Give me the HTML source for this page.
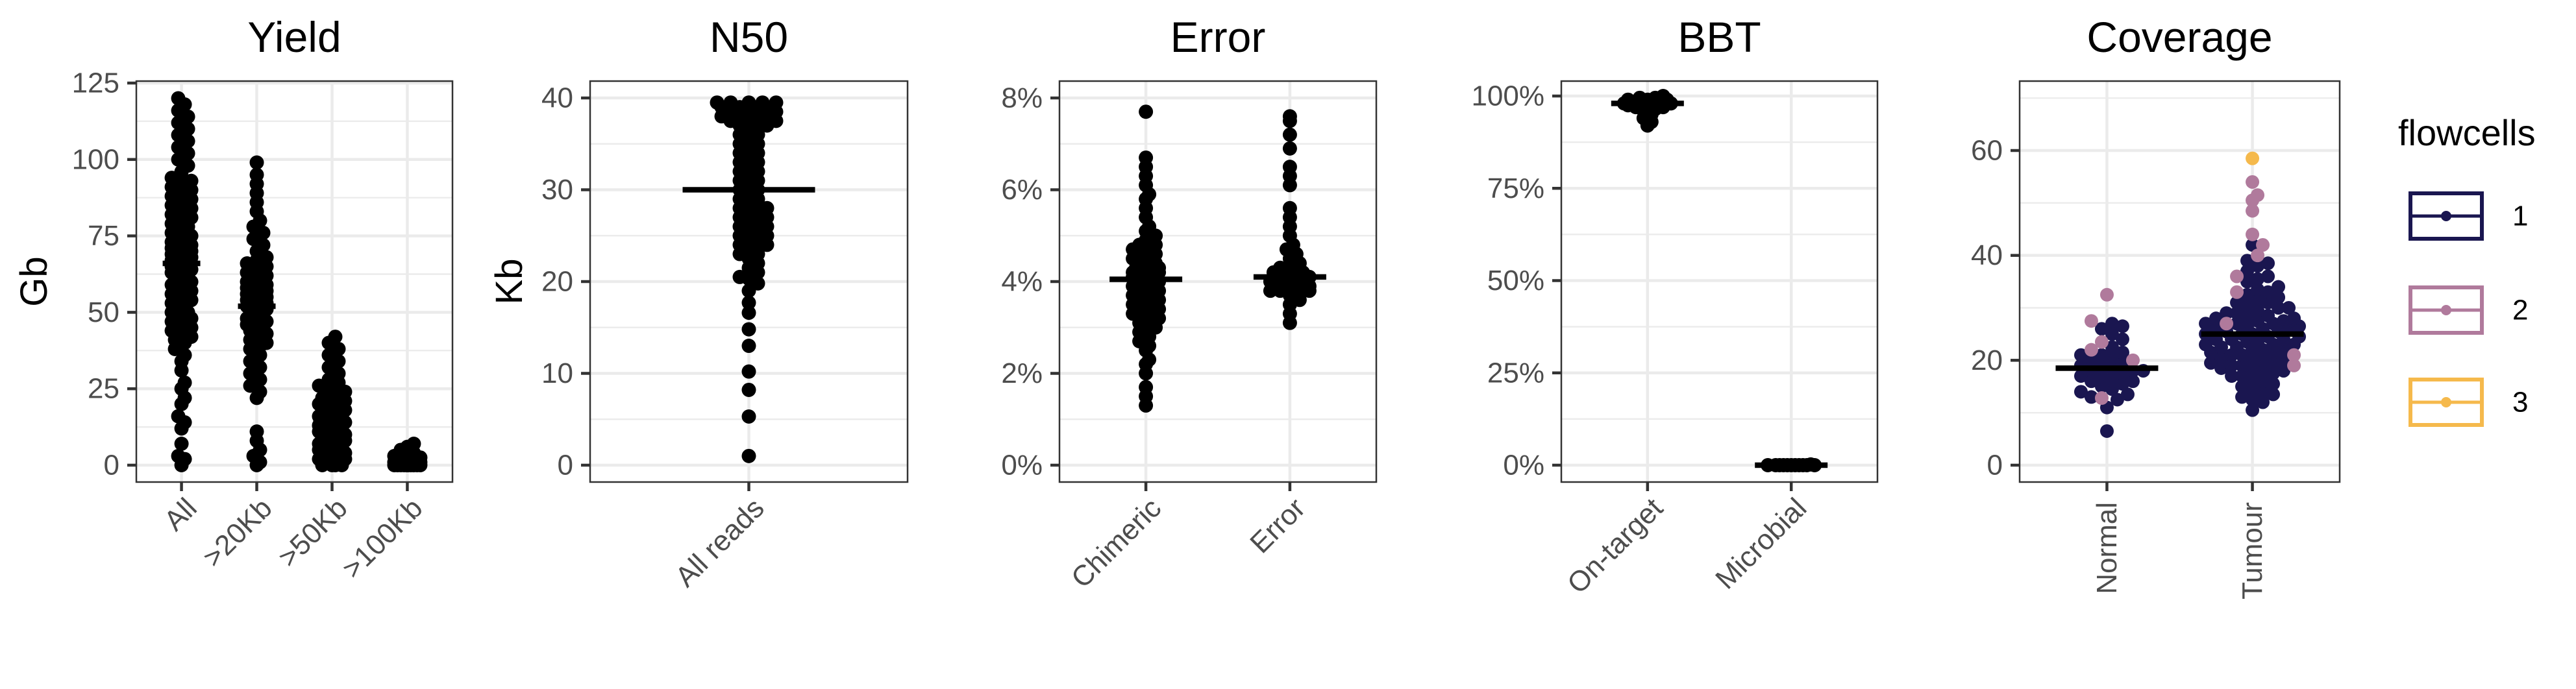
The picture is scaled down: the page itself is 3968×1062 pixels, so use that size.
<!DOCTYPE html>
<html><head><meta charset="utf-8"><title>Sequencing QC</title>
<style>
html,body{margin:0;padding:0;background:#fff;}
svg{display:block;font-family:"Liberation Sans",Arial,sans-serif;}
</style></head>
<body>
<svg id="fig" width="3968" height="1062" viewBox="0 0 3968 1062" xmlns="http://www.w3.org/2000/svg"></svg>
<script>
// ---------- data ----------
const yieldCats = ["All", ">20Kb", ">50Kb", ">100Kb"];
const yieldAll = [0,2,3,7,12,14,16,20,22,25,27,31,34,36,38,40,41,42,43,44,45,46,47,48,49,50,50,51,52,53,54,54,55,56,57,57,58,59,59,60,60,61,62,62,63,63,64,64,65,65,66,66,67,67,68,68,68,69,69,70,70,71,71,72,72,73,73,74,75,75,76,77,78,79,80,81,82,83,84,85,86,87,88,89,90,91,92,93,94,96,98,100,102,104,106,108,110,112,114,116,118,120];
const yield20 = [0,1,3,5,8,11,22,24,26,28,30,32,34,36,38,39,40,41,42,43,44,44,45,45,46,46,47,47,48,48,49,49,50,50,51,51,52,52,53,53,53,54,54,55,55,56,56,57,57,58,58,59,59,60,60,61,62,63,64,65,66,67,68,70,72,74,76,78,80,83,86,89,92,95,99];
const yield50 = [0,0,0,0,1,1,2,2,3,3,4,4,5,5,6,6,7,7,8,8,9,9,10,10,11,11,12,12,13,13,14,14,15,15,16,16,16,17,17,18,18,19,19,20,20,21,21,22,22,23,24,25,26,27,28,30,32,34,36,38,40,42];
const yield100 = [0,0,0,0,0,0,0,0,0,0,0,0,0.5,0.5,0.5,0.5,0.5,1,1,1,1,1,1.5,1.5,2,2,2.5,3,3.5,4,5,6,7];
const yieldTicks = [0,25,50,75,100,125];

const n50Cats = ["All reads"];
const n50Vals = [1,5.3,8.2,10.2,13,14.8,16.6,17.7,19,19.8,20.3,20.5,21,21.5,22,22.5,23,23,23.5,24,24,24,24.5,25,25,25,25.5,26,26,26,26.5,27,27,27,27.5,28,28,28,28.5,29,29,29.5,30,30,30.5,31,31,31.5,32,32,32.5,33,33,33.5,34,34,34.5,35,35,35.5,36,36,36.5,37,37,37,37.5,37.5,37.5,38,38,38,38,38.5,38.5,38.5,39,39,39,39,39.5,39.5,39.5,39.5,39.5];
const n50Ticks = [0,10,20,30,40];

const errCats = ["Chimeric", "Error"];
const chimericVals = [1.3,1.5,1.7,2.0,2.2,2.3,2.5,2.6,2.7,2.8,2.9,3.0,3.0,3.1,3.2,3.2,3.3,3.3,3.4,3.4,3.5,3.5,3.6,3.6,3.7,3.7,3.8,3.8,3.8,3.9,3.9,3.9,4.0,4.0,4.0,4.1,4.1,4.1,4.2,4.2,4.2,4.2,4.3,4.3,4.3,4.3,4.4,4.4,4.4,4.5,4.5,4.6,4.6,4.7,4.7,4.8,4.8,4.9,5.0,5.1,5.2,5.4,5.6,5.8,5.9,6.1,6.3,6.5,6.7,7.7];
const errorVals = [3.1,3.3,3.5,3.6,3.7,3.8,3.8,3.8,3.8,3.9,3.9,3.9,3.9,3.9,3.9,4.0,4.0,4.0,4.0,4.0,4.1,4.1,4.1,4.1,4.2,4.2,4.3,4.3,4.4,4.5,4.6,4.7,4.8,5.0,5.2,5.4,5.6,6.1,6.3,6.5,6.9,7.2,7.5,7.6];
const errTicks = [0,2,4,6,8];

const bbtCats = ["On-target", "Microbial"];
const onTargetVals = [92,93,94,95,96,96.5,97,97,97.5,97.5,98,98,98,98,98,98.5,98.5,98.5,98.5,99,99,99,99,99.5,99.5,100];
const microbialVals = [0,0,0,0,0,0,0,0,0,0,0,0.2];
const bbtTicks = [0,25,50,75,100];

const covCats = ["Normal", "Tumour"];
const normalFc1 = [6.5,11,12.5,13,13.5,14,14.5,15,15.5,16,16,16.5,17,17,17.5,18,18,18,18.5,19,19,19.5,20,20.5,21,21,21.5,22.5,24,25,26,26.5,27];
const normalFc2 = [12.8,20,22,23.5,27.5,32.5];
const tumourFc1 = [10.5,12,12.5,13,13.5,14,14.5,15,15.5,16,16.5,17,17,17.5,18,18,18.5,18.5,19,19,19.5,19.5,20,20,20.5,20.5,21,21,21.5,21.5,22,22,22,22.5,22.5,23,23,23,23.5,23.5,24,24,24,24.5,24.5,25,25,25,25.5,25.5,26,26,26,26.5,26.5,27,27,27,27.5,27.5,28,28,28.5,28.5,29,29,29.5,30,30,30.5,31,31,31.5,32,32.5,33,33.5,34,35,35.5,36,37,38,38.5,39,42];
const tumourFc2 = [19,21,27,33,36,40,42,44,48.5,50.5,51.5,54];
const tumourFc3 = [58.5];
const covTicks = [0,20,40,60];
const flowcellLabels = ["1","2","3"];

// ---------- rendering ----------
const NS = "http://www.w3.org/2000/svg";
const svg = document.getElementById("fig");
const FC_COLORS = ["#1a1650", "#b07a9c", "#f5b94c"];
const BOX_TOP = 125, BOX_BOT = 743;

function mk(tag, attrs, parent) {
  const e = document.createElementNS(NS, tag);
  for (const k in attrs) e.setAttribute(k, attrs[k]);
  (parent || svg).appendChild(e);
  return e;
}
function median(a) { const s = [...a].sort((x, y) => x - y); const n = s.length; return n % 2 ? s[(n - 1) / 2] : (s[n / 2 - 1] + s[n / 2]) / 2; }

function swarm(vals, cx, yf, minD, step, cap, dens) {
  const ys = vals.map(yf);
  const idx = vals.map((v, i) => i).sort((a, b) => vals[a] - vals[b]);
  const placed = [];
  const out = new Array(vals.length);
  idx.forEach(i => {
    const y = ys[i];
    let cnt = 0;
    ys.forEach(o => { if (Math.abs(o - y) < minD * 1.5) cnt++; });
    const lc = Math.min(cap, Math.max(0, cnt - 1) * dens);
    const kmax = 2 * Math.floor(lc / step);
    let best = cx, bestD = -1;
    for (let k = 0; k <= kmax; k++) {
      const off = k === 0 ? 0 : (k % 2 ? 1 : -1) * Math.ceil(k / 2) * step;
      const x = cx + off;
      let md = Infinity;
      for (const p of placed) { if (Math.abs(p.y - y) < minD) md = Math.min(md, Math.hypot(p.x - x, p.y - y)); }
      if (md >= minD) { best = x; break; }
      if (md > bestD) { bestD = md; best = x; }
    }
    placed.push({ x: best, y });
    out[i] = { x: best, y };
  });
  return out;
}

function panel(cfg) {
  const g = mk("g", {});
  
  
  const { x0, x1, v0, p0, v1, p1 } = cfg;
  const yf = v => p0 + (v - v0) * (p1 - p0) / (v1 - v0);
  const n = cfg.cats.length;
  const unit = (x1 - x0) / (n - 1 + 1.2);
  const xf = i => x0 + 0.6 * unit + i * unit;
  for (let i = 0; i < cfg.ticks.length; i++) {
    const step = cfg.ticks[1] - cfg.ticks[0];
    [cfg.ticks[i] - step / 2, cfg.ticks[i] + step / 2].forEach(m => {
      const y = yf(m);
      if (y > BOX_TOP + 2 && y < BOX_BOT - 2 && !cfg.ticks.includes(m)) {
        const l = mk("line", { x1: x0, x2: x1, y1: y, y2: y, stroke: "#ebebeb", "stroke-width": 2.2 }, g);
        
        
      }
    });
  }
  cfg.ticks.forEach(t => {
    const y = yf(t);
    const l = mk("line", { x1: x0, x2: x1, y1: y, y2: y, stroke: "#ebebeb", "stroke-width": 4.5 }, g);
    
    
  });
  cfg.cats.forEach((c, i) => {
    const l = mk("line", { x1: xf(i), x2: xf(i), y1: BOX_TOP, y2: BOX_BOT, stroke: "#ebebeb", "stroke-width": 4.5 }, g);
    
    
  });
  cfg.series.forEach((s) => {
    const cx = xf(s.cat);
    let all = [], cols = [];
    s.groups.forEach((grp, gi) => { grp.forEach(v => { all.push(v); cols.push(gi); }); });
    const pts = swarm(all, cx, yf, cfg.minD, cfg.step, s.cap, s.dens);
    const order = all.map((v, k) => k).sort((a, b) => cols[a] - cols[b]);
    order.forEach(k => {
      const c = mk("circle", { cx: pts[k].x, cy: pts[k].y, r: cfg.r, fill: cfg.colored ? FC_COLORS[cols[k]] : "#000" }, g);
      
      
    });
    const my = yf(median(all));
    const m = mk("line", { x1: cx - cfg.mw, x2: cx + cfg.mw, y1: my, y2: my, stroke: "#000", "stroke-width": 8.5 }, g);
    
    
  });
  const b = mk("rect", { x: x0, y: BOX_TOP, width: x1 - x0, height: BOX_BOT - BOX_TOP, fill: "none", stroke: "#333", "stroke-width": 2.5 }, g);
  
  
  cfg.ticks.forEach(t => {
    const y = yf(t);
    const tk = mk("line", { x1: x0 - 14, x2: x0, y1: y, y2: y, stroke: "#333", "stroke-width": 4.5 }, g);
    
    
    const tx = mk("text", { x: x0 - 26, y: y, "text-anchor": "end", "dominant-baseline": "central", "font-size": 44, fill: "#4d4d4d" }, g);
    tx.textContent = cfg.fmt(t);
    
    
  });
  cfg.cats.forEach((c, i) => {
    const x = xf(i);
    const tk = mk("line", { x1: x, x2: x, y1: BOX_BOT, y2: BOX_BOT + 14, stroke: "#333", "stroke-width": 4.5 }, g);
    
    
    let tx;
    if (cfg.vertical) {
      tx = mk("text", { transform: `translate(${x},774) rotate(-90)`, "text-anchor": "end", "dominant-baseline": "central", "font-size": 44, fill: "#4d4d4d" }, g);
    } else {
      tx = mk("text", { transform: `translate(${x + 4},764) rotate(-45)`, "text-anchor": "end", "dominant-baseline": "hanging", "font-size": 44, fill: "#4d4d4d" }, g);
    }
    tx.textContent = c;
    
    
  });
  const ti = mk("text", { x: (x0 + x1) / 2, y: 80, "text-anchor": "middle", "font-size": 66, fill: "#000" }, g);
  ti.textContent = cfg.title;
  
  
  if (cfg.ylab) {
    const yl = mk("text", { transform: `translate(${cfg.ylabX},${(BOX_TOP + BOX_BOT) / 2}) rotate(-90)`, "text-anchor": "middle", "font-size": 58, fill: "#000" }, g);
    yl.textContent = cfg.ylab;
    
    
  }
}

const num = t => String(t);
const pct = t => t + "%";

panel({ name: "yield", title: "Yield", ylab: "Gb", ylabX: 72, x0: 210, x1: 697, v0: 0, p0: 717, v1: 125, p1: 128,
  cats: yieldCats, ticks: yieldTicks, fmt: num, r: 11, minD: 14, step: 5, mw: 29,
  series: [{ cat: 0, groups: [yieldAll], cap: 16, dens: 3 }, { cat: 1, groups: [yield20], cap: 18, dens: 3 }, { cat: 2, groups: [yield50], cap: 20, dens: 3 }, { cat: 3, groups: [yield100], cap: 24, dens: 2 }] });
panel({ name: "n50", title: "N50", ylab: "Kb", ylabX: 804, x0: 909, x1: 1398, v0: 0, p0: 717, v1: 40, p1: 151,
  cats: n50Cats, ticks: n50Ticks, fmt: num, r: 11, minD: 14, step: 7, mw: 102,
  series: [{ cat: 0, groups: [n50Vals], cap: 62, dens: 5 }] });
panel({ name: "error", title: "Error", x0: 1632, x1: 2120, v0: 0, p0: 717, v1: 8, p1: 151,
  cats: errCats, ticks: errTicks, fmt: pct, r: 11, minD: 14, step: 5, mw: 56,
  series: [{ cat: 0, groups: [chimericVals], cap: 24, dens: 3 }, { cat: 1, groups: [errorVals], cap: 30, dens: 3 }] });
panel({ name: "bbt", title: "BBT", x0: 2405, x1: 2892, v0: 0, p0: 717, v1: 100, p1: 148,
  cats: bbtCats, ticks: bbtTicks, fmt: pct, r: 11, minD: 10, step: 6, mw: 56,
  series: [{ cat: 0, groups: [onTargetVals], cap: 36, dens: 3 }, { cat: 1, groups: [microbialVals], cap: 38, dens: 4 }] });
panel({ name: "coverage", title: "Coverage", x0: 3111, x1: 3604, v0: 0, p0: 717, v1: 60, p1: 232, vertical: true, colored: true,
  cats: covCats, ticks: covTicks, fmt: num, r: 10.5, minD: 16, step: 8, mw: 79,
  series: [{ cat: 0, groups: [normalFc1, normalFc2], cap: 64, dens: 9 }, { cat: 1, groups: [tumourFc1, tumourFc2, tumourFc3], cap: 76, dens: 7 }] });

const lg = mk("g", {});


const lt = mk("text", { x: 3694, y: 224, "font-size": 56, fill: "#000" }, lg);
lt.textContent = "flowcells";


const keyTops = [295, 440, 582];
flowcellLabels.forEach((lab, i) => {
  const y = keyTops[i];
  const col = FC_COLORS[i];
  const r = mk("rect", { x: 3713, y: y + 3, width: 110, height: 70, fill: "none", stroke: col, "stroke-width": 6 }, lg);
  
  
  const l = mk("line", { x1: 3713, x2: 3823, y1: y + 38, y2: y + 38, stroke: col, "stroke-width": 5 }, lg);
  
  
  const c = mk("circle", { cx: 3768, cy: y + 38, r: 8, fill: col }, lg);
  
  
  const t = mk("text", { x: 3870, y: y + 38, "dominant-baseline": "central", "font-size": 44, fill: "#000" }, lg);
  t.textContent = lab;
  
  
});
</script>
</body></html>
